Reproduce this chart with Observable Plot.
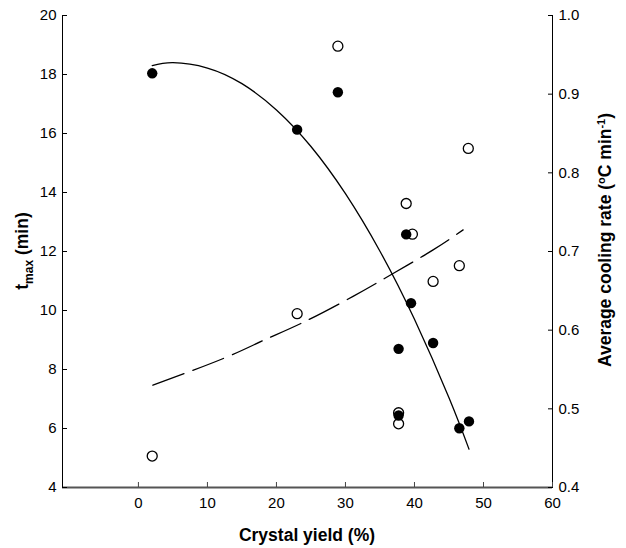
<!DOCTYPE html>
<html>
<head>
<meta charset="utf-8">
<script src="https://cdn.jsdelivr.net/npm/d3@7"></script>
<script src="https://cdn.jsdelivr.net/npm/@observablehq/plot@0.6"></script>
<style>
  html, body { margin: 0; padding: 0; background: #fff; }
  #chart { width: 626px; height: 548px; }
</style>
</head>
<body>
<div id="chart"></div>
<script>
// ---- tick labels / domains ----
const xTicks = [0, 10, 20, 30, 40, 50, 60];
const xDomain = [-11, 60];
const leftTicks = [4, 6, 8, 10, 12, 14, 16, 18, 20];
const leftDomain = [4, 20];
const rightTicks = [0.4, 0.5, 0.6, 0.7, 0.8, 0.9, 1.0];
const rightDomain = [0.4, 1.0];

// ---- t_max (filled circles, left axis) ----
const solidYield = [2.0, 23.0, 28.9, 38.8, 39.5, 37.7, 42.7, 37.7, 46.5, 47.9];
const tmax       = [18.04, 16.13, 17.40, 12.58, 10.25, 8.70, 8.90, 6.44, 6.01, 6.24];

// ---- average cooling rate (open circles, right axis) ----
const openYield   = [2.0, 23.0, 28.9, 37.7, 37.7, 38.8, 39.7, 42.7, 46.5, 47.8];
const coolingRate = [0.440, 0.621, 0.961, 0.495, 0.481, 0.761, 0.722, 0.662, 0.682, 0.831];

// ---- fitted curves ----
const fitTmaxX = [2, 5, 10, 15, 20, 25, 30, 35, 40, 45, 47.9];
const fitTmaxY = [18.30, 18.40, 18.22, 17.69, 16.80, 15.56, 13.96, 12.01, 9.70, 7.04, 5.30];
const fitRateX = [2.1, 12.3, 18.1, 23.9, 31.1, 36.9, 42.7, 47.05];
const fitRateY = [0.530, 0.564, 0.587, 0.610, 0.643, 0.672, 0.702, 0.7275];

// map right-axis values onto the left (plot) scale
const toLeft = r => leftDomain[0] + (r - rightDomain[0]) * (leftDomain[1] - leftDomain[0]) / (rightDomain[1] - rightDomain[0]);
const toRight = v => rightDomain[0] + (v - leftDomain[0]) * (rightDomain[1] - rightDomain[0]) / (leftDomain[1] - leftDomain[0]);

const solidData = solidYield.map((x, i) => ({x, y: tmax[i]}));
const openData = openYield.map((x, i) => ({x, y: toLeft(coolingRate[i])}));
const fitTmax = fitTmaxX.map((x, i) => ({x, y: fitTmaxY[i]}));
const fitRate = fitRateX.map((x, i) => ({x, y: toLeft(fitRateY[i])}));

const font = "'Liberation Sans', Arial, Helvetica, sans-serif";

const plot = Plot.plot({
  width: 626,
  height: 548,
  marginLeft: 62,
  marginRight: 74,
  marginTop: 15,
  marginBottom: 61,
  style: { fontFamily: font, fontSize: "15px", color: "#000", background: "#fff", overflow: "visible" },
  x: { domain: xDomain },
  y: { domain: leftDomain },
  marks: [
    Plot.ruleY([leftDomain[0]], { stroke: "#555", strokeWidth: 2 }),
    Plot.ruleX([xDomain[0]], { stroke: "#000", strokeWidth: 1 }),
    Plot.ruleX([xDomain[1]], { stroke: "#000", strokeWidth: 1 }),
    Plot.axisX({ ticks: xTicks, tickSize: -5, tickPadding: 15, label: null, tickFormat: d => String(d), stroke: "#444" }),
    Plot.axisY({ anchor: "left", ticks: leftTicks, tickSize: -5, tickPadding: 11, label: null, tickFormat: d => String(d) }),
    Plot.axisY({ anchor: "right", ticks: rightTicks.map(toLeft), tickSize: -5, tickPadding: 11, label: null, tickFormat: d => toRight(d).toFixed(1) }),
    Plot.line(fitRate, { x: "x", y: "y", curve: "natural", stroke: "#000", strokeWidth: 1.3, strokeDasharray: "33,9.5" }),
    Plot.line(fitTmax, { x: "x", y: "y", curve: "natural", stroke: "#000", strokeWidth: 1.3 }),
    Plot.dot(openData, { x: "x", y: "y", r: 5, fill: "#fff", stroke: "#000", strokeWidth: 1.3 }),
    Plot.dot(solidData, { x: "x", y: "y", r: 5.2, fill: "#000", stroke: "none" })
  ]
});

document.getElementById("chart").appendChild(plot);

// ---- axis titles with sub/superscripts ----
const svg = d3.select(plot);
svg.append("text")
  .attr("x", 307).attr("y", 541)
  .attr("text-anchor", "middle")
  .style("font-family", font).style("font-size", "17.5px").style("font-weight", "bold")
  .text("Crystal yield (%)");

const lt = svg.append("text")
  .attr("transform", "translate(28,251) rotate(-90)")
  .attr("text-anchor", "middle")
  .style("font-family", font).style("font-size", "17.5px").style("font-weight", "bold");
lt.append("tspan").text("t");
lt.append("tspan").attr("dy", 5).style("font-size", "12px").text("max");
lt.append("tspan").attr("dy", -5).text(" (min)");

const rt = svg.append("text")
  .attr("transform", "translate(611,240) rotate(-90)")
  .attr("text-anchor", "middle")
  .style("font-family", font).style("font-size", "17.5px").style("font-weight", "bold");
rt.append("tspan").text("Average cooling rate (");
rt.append("tspan").attr("dy", -6).style("font-size", "11px").text("o");
rt.append("tspan").attr("dy", 6).text("C min");
rt.append("tspan").attr("dy", -6).style("font-size", "11px").text("-1");
rt.append("tspan").attr("dy", 6).text(")");
</script>
</body>
</html>
